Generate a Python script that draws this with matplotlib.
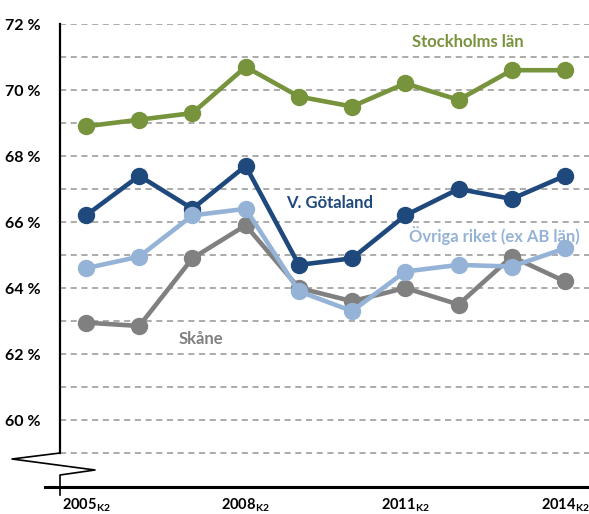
import matplotlib
matplotlib.use("Agg")
import matplotlib.pyplot as plt
from matplotlib.lines import Line2D
import numpy as np

years = [2005, 2006, 2007, 2008, 2009, 2010, 2011, 2012, 2013, 2014]
stockholm = [68.9, 69.1, 69.3, 70.7, 69.8, 69.5, 70.2, 69.7, 70.6, 70.6]
vgotaland = [66.2, 67.4, 66.4, 67.7, 64.7, 64.9, 66.2, 67.0, 66.7, 67.4]
ovriga = [64.6, 64.95, 66.2, 66.4, 63.9, 63.3, 64.5, 64.7, 64.65, 65.2]
skane = [62.95, 62.85, 64.9, 65.9, 64.0, 63.6, 64.0, 63.5, 64.95, 64.2]

xtick_years = [2005, 2008, 2011, 2014]
ytick_vals = [60, 62, 64, 66, 68, 70, 72]

c_green = "#77933C"
c_dark = "#1F497D"
c_light = "#95B3D7"
c_gray = "#808080"

plt.rcParams['font.family'] = ['Lato', 'DejaVu Sans']
plt.rcParams['mathtext.fontset'] = 'custom'
plt.rcParams['mathtext.rm'] = 'Lato:bold'
plt.rcParams['mathtext.bf'] = 'Lato:bold'

FW = 'bold'

W, H = 589, 514
fig = plt.figure(figsize=(W/100, H/100), dpi=100)
ax = fig.add_axes([60/W, (H-487)/H, (W-60)/W, (487-24)/H])

x = np.arange(len(years))
series = [(skane, c_gray), (vgotaland, c_dark), (ovriga, c_light), (stockholm, c_green)]
for i, (vals, col) in enumerate(series):
    ax.plot(x, vals, color=col, lw=3.3, marker='o', ms=11.5, zorder=3 + i,
            solid_capstyle='round')

ax.set_xlim(-26/53.22, 9 + 24/53.22)
ax.set_ylim(72 - 463/33, 72)

for g in range(59, 73):
    ax.axhline(g, color="#959595", lw=1.1, ls=(0, (4, 3)), zorder=1)

for s in ax.spines.values():
    s.set_visible(False)

ax.set_yticks(ytick_vals)
ax.set_yticklabels([f"{v} %" for v in ytick_vals], fontsize=11.5, fontweight=FW)
ax.tick_params(axis='y', length=0, pad=14)
idx = [years.index(y) for y in xtick_years]
ax.set_xticks(idx)
ax.set_xticklabels([f"{y}" + r"$_{\mathrm{K2}}$" for y in xtick_years],
                   fontsize=10.5, fontweight=FW)
ax.tick_params(axis='x', length=0, pad=7)

def fx(px):
    return px / W
def fy(py):
    return 1 - py / H

# left spine with break
fig.add_artist(Line2D([fx(60), fx(60)], [fy(24), fy(453)], color='black', lw=1.6))
fig.add_artist(Line2D([fx(60), fx(12), fx(95), fx(60), fx(60)],
                      [fy(453), fy(459), fy(470), fy(475), fy(495)],
                      color='black', lw=1.2))
# bottom axis
fig.add_artist(Line2D([fx(45), fx(589)], [fy(487), fy(487)], color='black', lw=2.2))

# series labels
fs = 12
ax.text(8.23, 71.45, "Stockholms län", color=c_green, fontsize=fs, fontweight=FW,
        ha='right', va='center')
ax.text(4.57, 66.57, "V. Götaland", color=c_dark, fontsize=fs, fontweight=FW,
        ha='center', va='center')
ax.text(9.28, 65.6, "Övriga riket (ex AB län)", color=c_light, fontsize=fs,
        fontweight=FW, ha='right', va='center')
ax.text(2.16, 62.45, "Skåne", color=c_gray, fontsize=fs, fontweight=FW,
        ha='center', va='center')

fig.savefig("out.png", dpi=100)
